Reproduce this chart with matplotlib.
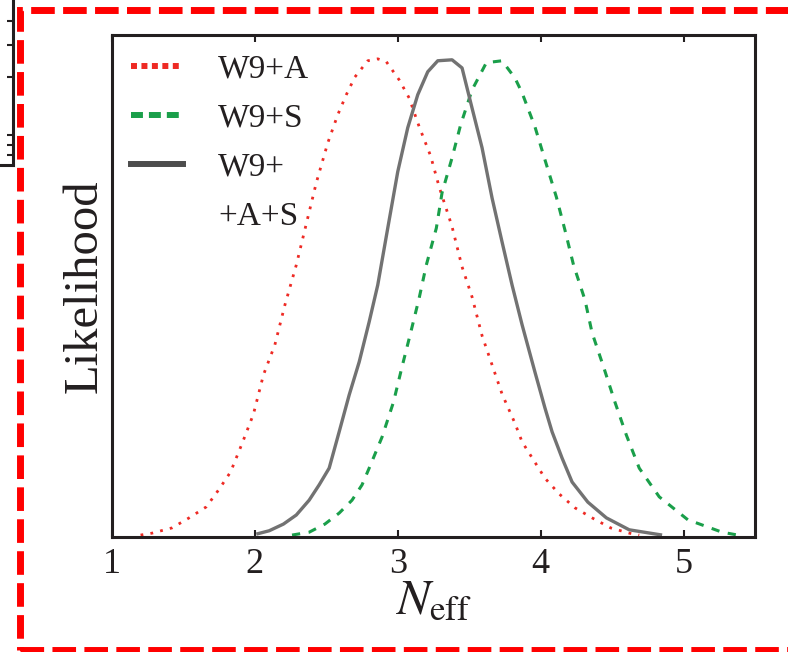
import matplotlib
matplotlib.use('Agg')
import matplotlib.pyplot as plt
from matplotlib.lines import Line2D
from matplotlib.patches import Rectangle

plt.rcParams['font.family'] = ['Liberation Serif', 'DejaVu Serif']
plt.rcParams['mathtext.fontset'] = 'stix'

# likelihood curves (N_eff, normalised likelihood)
neff_a = [1.20, 1.28, 1.42, 1.54, 1.66, 1.75, 1.83, 1.91, 1.99, 2.06, 2.14, 2.21, 2.29, 2.36,
          2.43, 2.51, 2.58, 2.64, 2.70, 2.79, 2.86, 2.92, 3.01, 3.08, 3.15, 3.23, 3.29, 3.38,
          3.45, 3.52, 3.59, 3.66, 3.73, 3.82, 3.87, 3.95, 4.03, 4.13, 4.24, 4.36, 4.49, 4.62, 4.69]
like_a = [0.004, 0.008, 0.019, 0.040, 0.063, 0.100, 0.136, 0.195, 0.257, 0.339, 0.402, 0.485, 0.569, 0.655,
          0.741, 0.824, 0.883, 0.925, 0.962, 0.996, 1.000, 0.994, 0.956, 0.918, 0.858, 0.797, 0.732, 0.649,
          0.565, 0.502, 0.421, 0.360, 0.299, 0.238, 0.199, 0.161, 0.123, 0.090, 0.061, 0.040, 0.019, 0.008, 0.004]

neff_s = [2.26, 2.38, 2.49, 2.59, 2.68, 2.75, 2.80, 2.89, 2.97, 3.03, 3.09, 3.15, 3.20, 3.27,
          3.31, 3.38, 3.44, 3.52, 3.62, 3.73, 3.82, 3.87, 3.96, 4.03, 4.11, 4.17, 4.23, 4.31,
          4.36, 4.44, 4.52, 4.60, 4.69, 4.83, 5.03, 5.27, 5.38]
like_s = [0.004, 0.010, 0.027, 0.050, 0.077, 0.109, 0.144, 0.209, 0.282, 0.356, 0.427, 0.500, 0.569, 0.646,
          0.720, 0.793, 0.862, 0.935, 0.992, 0.996, 0.960, 0.929, 0.858, 0.789, 0.711, 0.642, 0.569, 0.496,
          0.427, 0.356, 0.282, 0.213, 0.144, 0.084, 0.036, 0.010, 0.004]

neff_as = [2.01, 2.10, 2.20, 2.29, 2.38, 2.45, 2.52, 2.59, 2.66, 2.73, 2.80, 2.86, 2.93, 3.00,
           3.07, 3.14, 3.21, 3.28, 3.38, 3.45, 3.52, 3.59, 3.66, 3.73, 3.80, 3.87, 3.96, 4.03,
           4.08, 4.15, 4.22, 4.33, 4.46, 4.62, 4.85]
like_as = [0.006, 0.013, 0.027, 0.046, 0.077, 0.109, 0.144, 0.220, 0.297, 0.366, 0.450, 0.527, 0.646, 0.764,
           0.856, 0.925, 0.973, 0.996, 0.998, 0.981, 0.897, 0.814, 0.709, 0.617, 0.527, 0.444, 0.345, 0.270,
           0.220, 0.165, 0.115, 0.073, 0.040, 0.015, 0.004]

labels = ['W9+A', 'W9+S', 'W9+', '+A+S']
xticks = [1, 2, 3, 4, 5]

red = '#ee2a24'
green = '#1a9f4a'
grey = '#727272'
ink = '#231f20'

fig = plt.figure(figsize=(7.88, 6.52), dpi=100)
ax = fig.add_axes([0.1421, 0.1764, 0.816, 0.770])

ax.plot(neff_a, like_a, color=red, lw=2.0, ls=(0, (1, 2.6)))
ax.plot(neff_s, like_s, color=green, lw=2.2, ls=(0, (2.7, 2.8)))
ax.plot(neff_as, like_as, color=grey, lw=2.4, solid_capstyle='butt')

ax.set_xlim(1, 5.5)
ax.set_ylim(0, 1.05)
ax.set_xticks(xticks)
ax.set_xticklabels([str(t) for t in xticks])
ax.set_yticks([])
ax.tick_params(axis='x', direction='in', top=True, bottom=True, length=5, width=1.5,
               colors=ink, labelsize=26, pad=8)
for sp in ax.spines.values():
    sp.set_linewidth(2.2)
    sp.set_color(ink)

ax.set_xlabel(r'$N_{\rm eff}$', fontsize=36, color=ink, labelpad=-2)
ax.set_ylabel('Likelihood', fontsize=35, color=ink, labelpad=4)

# legend: third entry spans two lines, so the last row has no handle
handles = [Line2D([], [], color=red, lw=4.3, ls=(0, (1, 0.75))),
           Line2D([], [], color=green, lw=4.3, ls=(0, (2, 1))),
           Line2D([], [], color='#4d4d4d', lw=4.3),
           Line2D([], [], lw=0)]
leg = ax.legend(handles, labels, loc='upper left', bbox_to_anchor=(0.03, 0.962), frameon=False,
                fontsize=24, handlelength=1.55, handletextpad=1.05, labelspacing=0.56,
                borderpad=0, borderaxespad=0)
for t in leg.get_texts():
    t.set_color(ink)

# cropped edge of the neighbouring panel (top-left corner)
nb = fig.add_axes([-0.3, 0.7469, 0.3165, 0.3])
nb.set_xlim(0, 1)
nb.set_ylim(0, 195.6)
for k in ['left', 'top']:
    nb.spines[k].set_visible(False)
for k in ['right', 'bottom']:
    nb.spines[k].set_linewidth(2.2)
    nb.spines[k].set_color(ink)
nb.set_xticks([])
nb.yaxis.tick_right()
nb.set_yticks([144, 120, 88, 30, 20, 10])
nb.tick_params(axis='y', direction='in', length=4.3, width=1.5, colors=ink, labelright=False)

# red dashed frame round the panel
fig.patches.append(Rectangle((0.0254, 0.003), 0.9784, 0.9817, transform=fig.transFigure,
                             fill=False, edgecolor='#ff0000', lw=5, ls=(0, (3.4, 1.2)),
                             clip_on=False))

fig.savefig('out.png', dpi=100)
